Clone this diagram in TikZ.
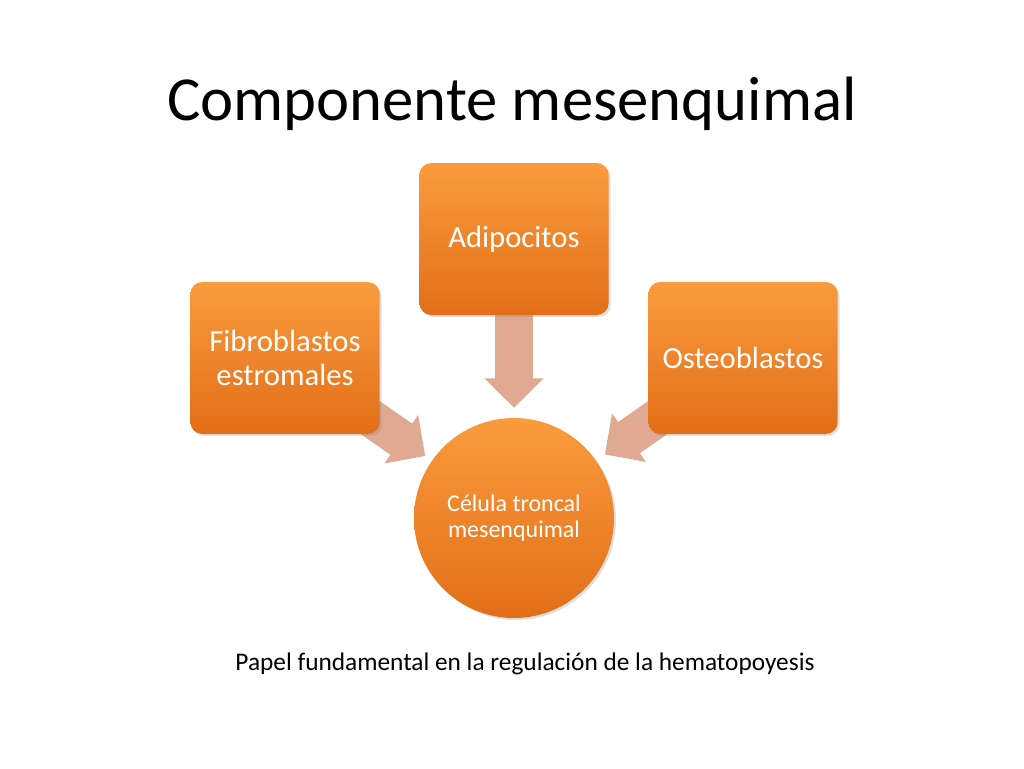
\documentclass[tikz,border=0pt]{standalone}
\usepackage{fontspec}
\setmainfont{Carlito}
\usetikzlibrary{positioning,arrows.meta,shadows,backgrounds}

\definecolor{boxtop}{RGB}{250,155,62}
\definecolor{boxbot}{RGB}{226,110,24}
\definecolor{flowcol}{RGB}{224,170,146}

\tikzset{
    box/.style={rectangle, rounded corners=9pt, minimum width=142pt, minimum height=114pt,
        top color=boxtop, bottom color=boxbot, text=white, align=center,
        font=\fontsize{23}{25}\selectfont,
        drop shadow={opacity=0.25, shadow xshift=1.5pt, shadow yshift=-1.5pt}},
    stemcell/.style={circle, minimum size=150pt, inner sep=0pt,
        top color=boxtop, bottom color=boxbot, text=white, align=center,
        font=\fontsize{18}{20}\selectfont,
        drop shadow={opacity=0.25, shadow xshift=1.5pt, shadow yshift=-1.5pt}},
    flow/.style={draw=flowcol, line width=28.5pt, -{Triangle[width=43pt,length=22pt]}}
}

\begin{document}
\begin{tikzpicture}[x=0.75pt, y=-0.75pt]

    \useasboundingbox (0,0) rectangle (1024,768);

    \node[font=\fontsize{47}{56}\selectfont, anchor=base] (title) at (512,120) {Componente mesenquimal};

    \node[box] (adip) at (514,239) {Adipocitos};
    \node[box] (fib) at (285,358) {Fibroblastos\\estromales};
    \node[box] (osteo) at (743,358) {Osteoblastos};
    \node[stemcell] (cell) at (514,518) {Célula troncal\\mesenquimal};

    \node[font=\fontsize{19}{22}\selectfont, anchor=base] (note) at (525,670) {Papel fundamental en la regulación de la hematopoyesis};

    \begin{pgfonlayer}{background}
        \fill[white] (0,0) rectangle (1024,768);
        \draw[flow, shorten >=7.5pt] (adip.south) -- (cell.north);
        \draw[flow, shorten <=75pt, shorten >=6pt] (fib.center) -- (cell);
        \draw[flow, shorten <=75pt, shorten >=8pt] (osteo.center) -- (cell);
    \end{pgfonlayer}

\end{tikzpicture}
\end{document}
